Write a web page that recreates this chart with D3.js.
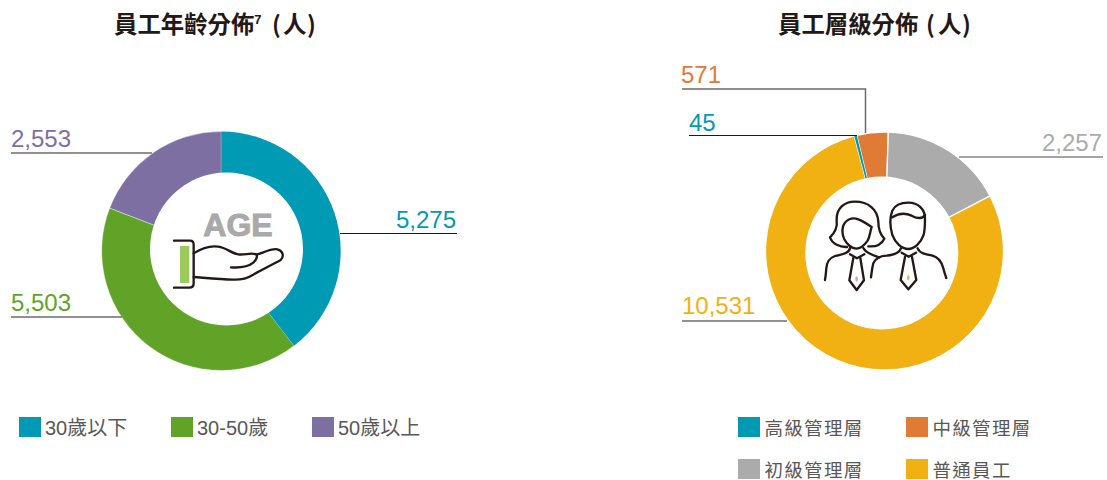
<!DOCTYPE html>
<html>
<head>
<meta charset="utf-8">
<script src="https://cdn.jsdelivr.net/npm/d3@7"></script>
<style>
  html, body { margin: 0; padding: 0; background: #fff; overflow: hidden; }
  svg { display: block; }
  text { font-family: "Liberation Sans", "Noto Sans CJK TC", sans-serif; }
  .titulo { font-family: "Noto Sans CJK TC", sans-serif; font-size: 23.4px; font-weight: 700; fill: #231815; }
  .legenda { font-size: 20px; fill: #595757; }
  .icone { fill: none; stroke: #231815; stroke-width: 7; stroke-linecap: round; stroke-linejoin: round; }
</style>
</head>
<body>
<svg id="grafico" width="1107" height="480"></svg>
<script>
// age chart
const ageCategories = ["30歲以下", "30-50歲", "50歲以上"];
const ageValues = [5275, 5503, 2553];
const ageColors = ["#009ab5", "#61a327", "#7d6fa1"];

// rank chart
const rankCategories = ["高級管理層", "中級管理層", "初級管理層", "普通員工"];
const rankValues = [45, 571, 2257, 10531];
const rankColors = ["#009ab5", "#e07b35", "#ababab", "#f2b113"];

const svg = d3.select("#grafico");
const rad = Math.PI / 180;

function donut(cfg) {
	let pie = d3.pie().sort(null)
		.startAngle(cfg.start * rad)
		.endAngle((cfg.start + 360) * rad);
	let arc = d3.arc().innerRadius(0).outerRadius(cfg.r);
	let g = svg.append("g").attr("transform", "translate(" + cfg.cx + "," + cfg.cy + ")");

	// leader lines go under the ring
	cfg.leaders.forEach(function(l, i) {
		svg.append("path")
			.attr("d", l.path)
			.attr("fill", "none")
			.attr("stroke", l.stroke)
			.attr("stroke-width", l.width);
		svg.append("text")
			.attr("x", l.tx)
			.attr("y", l.ty)
			.attr("text-anchor", l.anchor || "start")
			.attr("font-size", 24)
			.attr("fill", cfg.colors[i])
			.text(d3.format(",")(cfg.values[i]));
	});

	g.selectAll("path")
		.data(pie(cfg.values))
		.enter().append("path")
		.attr("d", arc)
		.attr("fill", function(d, i) { return cfg.colors[i]; })
		.attr("stroke", "#fff")
		.attr("stroke-width", cfg.gap);

	// first slice goes on top, or the 45 wedge disappears under the white strokes
	g.selectAll("path")
		.filter(function(d) { return d.index === 0; })
		.attr("stroke", "none")
		.raise();

	// the hole is not concentric in the original
	svg.append("circle")
		.attr("cx", cfg.hole[0])
		.attr("cy", cfg.hole[1])
		.attr("r", cfg.hole[2])
		.attr("fill", "#fff");

	// legend
	cfg.legend.forEach(function(p, i) {
		svg.append("rect")
			.attr("x", p[0]).attr("y", p[1])
			.attr("width", 22).attr("height", 20)
			.attr("fill", cfg.colors[i]);
		svg.append("text")
			.attr("class", "legenda")
			.attr("x", p[0] + 26 + (cfg.legendDx || 0))
			.attr("y", p[1] + 18)
			.style("font-size", cfg.legendSize + "px")
			.style("letter-spacing", cfg.legendSpacing + "px")
			.text(cfg.categories[i]);
	});
}

donut({
	categories: ageCategories, values: ageValues, colors: ageColors,
	cx: 221.2, cy: 251, r: 119.5, start: 0, gap: 0.4,
	hole: [226.5, 249, 76.5],
	legendSize: 20, legendSpacing: 0,
	legend: [[19, 417], [171, 417], [312, 417]],
	leaders: [
		{path: "M340,233.5H457", stroke: "#231815", width: 1, tx: 396, ty: 228},
		{path: "M122,317H11", stroke: "#6f6a6a", width: 1.5, tx: 11, ty: 311},
		{path: "M152,153H11", stroke: "#6f6a6a", width: 1.5, tx: 11, ty: 147}
	]
});

donut({
	categories: rankCategories, values: rankValues, colors: rankColors,
	cx: 884.5, cy: 251, r: 119, start: -14.7, gap: 1.3,
	hole: [881.8, 253, 76.5],
	legendSize: 18.5, legendSpacing: 1.3, legendDx: 0.5,
	legend: [[738, 417], [906, 417], [738, 459], [906, 459]],
	leaders: [
		{path: "M689,135.5H857", stroke: "#231815", width: 1, tx: 689, ty: 131},
		{path: "M682,89H865.5V133", stroke: "#6f6a6a", width: 1.5, tx: 681, ty: 83},
		{path: "M959,157H1103", stroke: "#8a8686", width: 1.5, tx: 1102, ty: 151, anchor: "end"},
		{path: "M682,321H787", stroke: "#6f6a6a", width: 1.5, tx: 682, ty: 314}
	]
});

// titles, parens placed by hand because the full width ones are too loose
function parens(x1, x2, x3) {
	let t = svg.append("text").attr("class", "titulo").attr("y", 33);
	t.append("tspan").attr("x", x1).text("(");
	t.append("tspan").attr("x", x2).text("人");
	t.append("tspan").attr("x", x3).text(")");
}
let t1 = svg.append("text").attr("class", "titulo").attr("x", 114).attr("y", 33);
t1.append("tspan").text("員工年齡分佈");
t1.append("tspan").attr("font-size", 13).attr("font-family", "Liberation Sans").attr("dy", -9).text("7");
parens(272, 283, 307);
svg.append("text").attr("class", "titulo").attr("x", 778).attr("y", 33).text("員工層級分佈");
parens(926, 938, 962);

// center icons
svg.append("text")
	.attr("x", 238).attr("y", 236)
	.attr("text-anchor", "middle")
	.attr("font-size", 32)
	.attr("font-weight", 700)
	.attr("fill", "#a9a9a9")
	.attr("stroke", "#a9a9a9")
	.attr("stroke-width", 1)
	.text("AGE");

let hand = svg.append("g").attr("transform", "translate(90,120) scale(0.3333)");
hand.append("rect").attr("x", 270).attr("y", 378).attr("width", 28).attr("height", 111).attr("fill", "#9ccb5c");
hand.append("path").attr("class", "icone")
	.attr("d", "M252,362H300Q311,362 311,374V490Q311,503 298,503H252");
hand.append("path").attr("class", "icone")
	.attr("d", "M311,400C335,385 360,376 385,380C410,384 425,400 445,403C465,406 485,396 500,404C520,398 545,385 562,388C578,392 584,408 572,420C545,435 515,450 490,464C470,476 455,480 430,479C390,478 350,474 311,471");
hand.append("path").attr("class", "icone")
	.attr("d", "M423,442C450,444 475,440 490,428C498,420 503,412 500,404");

let people = svg.append("g").attr("transform", "translate(755,120) scale(0.3333)");
let peoplePaths = [
	// woman
	"M276,381C255,382 232,372 225,352C240,338 248,322 245,300C244,265 268,245 300,245C340,245 368,268 370,305C370,325 375,342 388,356C380,372 362,381 340,379",
	"M264,320C270,300 290,290 310,298C325,304 340,314 350,321C345,335 345,350 338,362C328,376 315,386 304,386C290,386 275,372 268,358C262,345 261,332 264,320Z",
	"M285,384C283,400 262,403 240,408C222,414 216,425 214,445C213,458 212,468 210,480",
	"M325,384C332,398 350,405 372,412",
	"M285,403L306,415L328,403",
	"M295,414L283,481L305,510L327,481L316,414",
	// man
	"M412,345C405,320 405,290 412,272C420,255 440,248 460,248C490,248 510,268 510,295C510,315 510,330 506,345C498,368 478,387 460,387C440,387 420,368 412,345Z",
	"M412,292C430,280 450,278 470,287C485,295 500,300 510,285",
	"M438,385C434,400 415,405 395,407C375,408 362,414 355,430C351,445 350,458 348,472",
	"M488,385C494,400 512,403 530,406C552,411 560,425 565,445C568,458 571,466 574,474",
	"M440,398L461,410L483,398",
	"M450,411L437,480L460,508L484,480L471,411"
];
people.selectAll("path").data(peoplePaths).enter().append("path")
	.attr("class", "icone")
	.attr("d", function(d) { return d; });
people.append("ellipse").attr("cx", 305).attr("cy", 477).attr("rx", 4).attr("ry", 8).attr("fill", "#c8a2d0");
people.append("ellipse").attr("cx", 460).attr("cy", 473).attr("rx", 4).attr("ry", 8).attr("fill", "#d8c070");
</script>
</body>
</html>
